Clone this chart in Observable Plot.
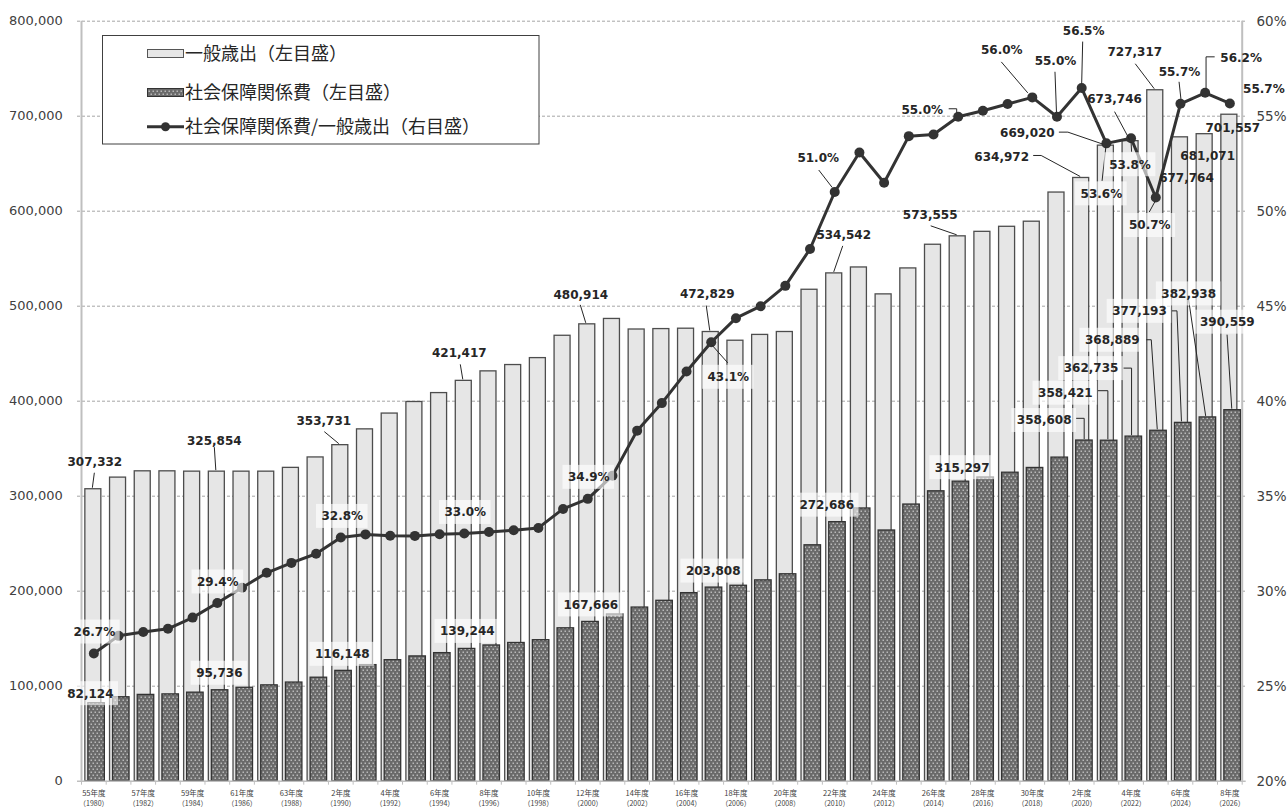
<!DOCTYPE html>
<html>
<head>
<meta charset="utf-8">
<script src="https://cdn.jsdelivr.net/npm/d3@7"></script>
<script src="https://cdn.jsdelivr.net/npm/@observablehq/plot@0.6"></script>
<style>
  html, body { margin: 0; padding: 0; background: #fff; }
  #chart { width: 1287px; height: 807px; }
  #chart svg { overflow: visible; }
</style>
</head>
<body>
<div id="chart"></div>
<script>
// ---------------- DATA ----------------
const years = [1980,1981,1982,1983,1984,1985,1986,1987,1988,1989,
               1990,1991,1992,1993,1994,1995,1996,1997,1998,1999,
               2000,2001,2002,2003,2004,2005,2006,2007,2008,2009,
               2010,2011,2012,2013,2014,2015,2016,2017,2018,2019,
               2020,2021,2022,2023,2024,2025,2026];

// 一般歳出 (億円)
const generalExp = [307332,319567,326200,326195,325857,325854,325842,325834,329821,340805,
                    353731,370365,386988,399168,408548,421417,431409,438067,445362,468878,
                    480914,486589,475472,475922,476320,472829,463660,469784,472845,517310,
                    534542,540780,512450,539774,564697,573555,578286,583591,588958,619639,
                    634972,669020,673746,727317,677764,681071,701557];

// 社会保障関係費 (億円)
const socialSec = [82124,88369,90848,91398,93211,95736,98346,100896,103845,108947,
                   116148,122200,127411,131350,134816,139244,142879,145501,148431,160950,
                   167666,175552,182795,189907,197970,203808,205739,211409,217824,248344,
                   272686,287079,263901,291224,305175,315297,319738,324735,329732,340627,
                   358608,358421,362735,368889,377193,382938,390559];

// 社会保障関係費/一般歳出 (%)
const ratioPct = [26.72,27.65,27.85,28.02,28.61,29.38,30.18,30.97,31.49,31.97,
                  32.83,32.99,32.92,32.91,33.00,33.04,33.12,33.21,33.33,34.33,
                  34.86,36.08,38.45,39.90,41.56,43.10,44.37,45.00,46.07,48.01,
                  51.01,53.09,51.50,53.95,54.04,54.97,55.29,55.64,55.99,54.97,
                  56.48,53.57,53.84,50.72,55.653,56.23,55.67];

// x tick labels (every other fiscal year)
const tickYears = [1980,1982,1984,1986,1988,1990,1992,1994,1996,1998,2000,2002,
                   2004,2006,2008,2010,2012,2014,2016,2018,2020,2022,2024,2026];
const tickEra = ["55年度","57年度","59年度","61年度","63年度","2年度","4年度","6年度",
                 "8年度","10年度","12年度","14年度","16年度","18年度","20年度","22年度",
                 "24年度","26年度","28年度","30年度","2年度","4年度","6年度","8年度"];

const leftTicks = [0,100000,200000,300000,400000,500000,600000,700000,800000];
const rightTicksPct = [20,25,30,35,40,45,50,55,60];

const legendItems = ["一般歳出（左目盛）","社会保障関係費（左目盛）","社会保障関係費/一般歳出（右目盛）"];

// ---------------- LABEL LAYOUT (pixel offsets from the data anchor) ----------------
const genLabelLayout = [
  {year:1980, dx:1,     dy:-27,  leader:[[1,-16],[-1,-1]]},
  {year:1985, dx:-3,    dy:-30,  leader:[[-2.5,-24],[-1,-1]]},
  {year:1990, dx:-17,   dy:-24,  leader:[[-16,-13],[-1.5,-1]]},
  {year:1995, dx:-5,    dy:-28,  leader:[[-3.5,-16],[-1,-1]]},
  {year:2000, dx:-7,    dy:-29,  leader:[[-7,-19],[-1.5,-1]]},
  {year:2005, dx:-4,    dy:-38,  leader:[[-4.5,-26],[-1,-1]]},
  {year:2010, dx:9,     dy:-38,  leader:[[8.5,-27],[-0.5,-1]]},
  {year:2015, dx:-28,   dy:-21,  leader:[[-27,-10],[-1,-1]]},
  {year:2020, dx:-80,   dy:-21,  leader:[[-48,-22],[-40,-22],[-1,-1]]},
  {year:2021, dx:-79,   dy:-12,  leader:[[-47,-13],[-38,-13],[-3,-1]]},
  {year:2022, dx:-16.5, dy:-42,  leader:[[-16,-29],[-1,-1]]},
  {year:2023, dx:-21,   dy:-38,  leader:[[-20,-26],[-1,-1]]},
  {year:2024, dx:6,     dy:41},
  {year:2025, dx:2.5,   dy:22},
  {year:2026, dx:3,     dy:13.5}
];
const ssLabelLayout = [
  {year:1980, dx:-3.5, dy:-9.5},
  {year:1985, dx:2,    dy:-17},
  {year:1990, dx:1.5,  dy:-16.5},
  {year:1995, dx:3,    dy:-17.5},
  {year:2000, dx:3,    dy:-17},
  {year:2005, dx:2,    dy:-16.5},
  {year:2010, dx:-8,   dy:-17},
  {year:2015, dx:4,    dy:-14},
  {year:2020, dx:-37.5, dy:-20,   leader:[[-5,-21.7],[3,-21.7],[3,-1]]},
  {year:2021, dx:-41,   dy:-47.5, leader:[[-8,-49.5],[2,-49.5],[2,-1]]},
  {year:2022, dx:-40,   dy:-68,   leader:[[-7,-68],[1,-68],[1,-1]]},
  {year:2023, dx:-43.5, dy:-90.5, leader:[[-9,-90.5],[-4,-90.5],[2,-1]]},
  {year:2024, dx:-41,   dy:-111.5,leader:[[-8,-111.5],[-3,-111.5],[1.5,-1]]},
  {year:2025, dx:-16.5, dy:-123.5,leader:[[-16,-117],[1,-1]]},
  {year:2026, dx:-2.5,  dy:-88,   leader:[[-2.3,-75],[2.4,-1]]}
];
const ratioLabelLayout = [
  {year:1980, dx:0.5,  dy:-21.5, box:true},
  {year:1985, dx:0.5,  dy:-21,   box:true},
  {year:1990, dx:1.5,  dy:-21,   box:true},
  {year:1995, dx:1,    dy:-21,   box:true},
  {year:2000, dx:1,    dy:-21.5, box:true},
  {year:2005, dx:17,   dy:35,    box:true, leader:[[1,3],[17,21]]},
  {year:2010, dx:-16.5,dy:-34,   leader:[[-15.5,-21.5],[-2,-4]]},
  {year:2015, dx:-36,  dy:-7,    leader:[[-9,-7.5],[-1,-7.5],[-1,-4]]},
  {year:2018, dx:-30.5,dy:-47,   leader:[[-30.5,-35],[-4,-4]]},
  {year:2019, dx:-1.5, dy:-56,   leader:[[-1.5,-44.5],[0,-4]]},
  {year:2020, dx:2,    dy:-56.5, leader:[[1.5,-46],[0.5,-4]]},
  {year:2021, dx:-5,   dy:50.5,  box:true, leader:[[0,4],[-3.8,38]]},
  {year:2022, dx:-1,   dy:26.5,  box:true, leader:[[0.5,4],[1,14]]},
  {year:2023, dx:-6,   dy:28,    box:true, leader:[[0,4],[-6,15]]},
  {year:2024, dx:-1,   dy:-32,   leader:[[-0.9,-21.5],[1,-4]]},
  {year:2025, dx:36,   dy:-34.5, leader:[[10,-35.5],[1.4,-35.5],[1.4,-4]]},
  {year:2026, dx:34,   dy:-14}
];

// ---------------- BUILD ----------------
const fmt = d3.format(",");
const pctToY = p => (p - 20) * 20000;      // right axis (20%..60%) onto the left value domain
const rows = years.map((year, i) => ({year, general: generalExp[i], social: socialSec[i], ratio: ratioPct[i]}));
const byYear = new Map(rows.map(r => [r.year, r]));

const ann = [];
genLabelLayout.forEach(l => { const r = byYear.get(l.year); ann.push({...l, value: r.general, text: fmt(r.general), box: false}); });
ssLabelLayout.forEach(l => { const r = byYear.get(l.year); ann.push({...l, value: r.social, text: fmt(r.social), box: true}); });
ratioLabelLayout.forEach(l => { const r = byYear.get(l.year); ann.push({...l, value: pctToY(r.ratio), text: r.ratio.toFixed(1) + "%", box: !!l.box}); });

const LABEL_FONT = "'DejaVu Sans', Verdana, sans-serif";
const boundaries = years.map(y => y - 0.5).concat([years[years.length - 1] + 0.5]);

function leaderLayer(index, scales) {
  const g = d3.create("svg:g").attr("fill", "none").attr("stroke", "#262626").attr("stroke-width", 1);
  for (const a of ann) {
    if (!a.leader) continue;
    const cx = scales.x(a.year), cy = scales.y(a.value);
    g.append("polyline").attr("points", a.leader.map(([dx, dy]) => `${cx + dx},${cy + dy}`).join(" "));
  }
  return g.node();
}
function boxLayer(index, scales) {
  const ctx = document.createElement("canvas").getContext("2d");
  ctx.font = "bold 12px 'DejaVu Sans'";
  const g = d3.create("svg:g").attr("fill", "#ffffff").attr("fill-opacity", 0.62);
  for (const a of ann) {
    if (!a.box) continue;
    const w = ctx.measureText(a.text).width + 10;
    const x = scales.x(a.year) + a.dx, y = scales.y(a.value) + a.dy;
    g.append("rect").attr("x", x - w / 2).attr("y", y - 12).attr("width", w).attr("height", 24);
  }
  return g.node();
}

const svgNode = Plot.plot({
  width: 1287,
  height: 807,
  marginLeft: 81,
  marginRight: 45.3,
  marginTop: 20.7,
  marginBottom: 26.3,
  style: {fontFamily: LABEL_FONT, background: "#fff", overflow: "visible"},
  x: {type: "linear", domain: [1979.5, 2026.5], axis: null},
  y: {domain: [0, 800000], axis: null},
  marks: [
    Plot.ruleY(leftTicks.filter(v => v > 0), {stroke: "#a6a6a6", strokeDasharray: "3,2", insetLeft: -4, insetRight: -4}),
    Plot.rect(rows, {x1: d => d.year - 0.5, x2: d => d.year + 0.5, y1: () => 0, y2: "general",
      insetLeft: 3.85, insetRight: 4.85, fill: "#e6e6e6", stroke: "#4d4d4d", strokeWidth: 1.3}),
    Plot.rect(rows, {x1: d => d.year - 0.5, x2: d => d.year + 0.5, y1: () => 0, y2: "social",
      insetLeft: 6.85, insetRight: 1.35, fill: "url(#ssDots)", stroke: "#333", strokeWidth: 1.3}),
    Plot.ruleX([1979.5, 2026.5], {stroke: "#bfbfbf", strokeWidth: 2}),
    Plot.ruleY([0], {stroke: "#bfbfbf", strokeWidth: 1.5, insetLeft: -4, insetRight: -4}),
    Plot.ruleX(boundaries, {y1: () => 0, y2: () => 0, insetTop: 4, stroke: "#bfbfbf"}),
    Plot.line(rows, {x: "year", y: d => pctToY(d.ratio), stroke: "#333", strokeWidth: 3}),
    Plot.dot(rows, {x: "year", y: d => pctToY(d.ratio), r: 5, fill: "#333"}),
    leaderLayer,
    boxLayer,
    ...ann.map(a => Plot.text([a], {x: "year", y: "value", text: "text", dx: a.dx, dy: a.dy,
      fontSize: 12, fontWeight: "bold", fill: "#262626", fontFamily: LABEL_FONT})),
    Plot.axisY(leftTicks, {anchor: "left", tickSize: 0, tickPadding: 18.7, tickFormat: fmt,
      fontSize: 13, color: "#404040", label: null}),
    Plot.axisY(rightTicksPct.map(pctToY), {anchor: "right", tickSize: 0, tickPadding: 14.3,
      tickFormat: v => `${Math.round(v / 20000 + 20)}%`, fontSize: 13.5, color: "#404040", label: null}),
    Plot.text(tickYears, {x: d => d, y: () => 0, text: (d, i) => tickEra[i], dy: 12.5,
      fontSize: 7.5, fill: "#404040", fontFamily: "'Noto Sans CJK JP', sans-serif"}),
    Plot.text(tickYears, {x: d => d, y: () => 0, text: d => `（${d}）`, dy: 22.5,
      fontSize: 7, fill: "#404040", fontFamily: "'Noto Sans CJK JP', sans-serif"})
  ]
});

document.getElementById("chart").appendChild(svgNode);

// dot pattern for 社会保障関係費 bars
const svg = d3.select(svgNode);
const defs = svg.insert("defs", ":first-child");
const pat = defs.append("pattern").attr("id", "ssDots").attr("patternUnits", "userSpaceOnUse")
  .attr("width", 4).attr("height", 6);
pat.append("rect").attr("width", 4).attr("height", 6).attr("fill", "#6a6a6a");
pat.append("rect").attr("x", 0.6).attr("y", 0.6).attr("width", 1.2).attr("height", 1.2).attr("fill", "#e4e4e4");
pat.append("rect").attr("x", 2.6).attr("y", 3.6).attr("width", 1.2).attr("height", 1.2).attr("fill", "#e4e4e4");

// legend (inside the plot area, top-left)
const lg = svg.append("g").attr("font-family", "'Noto Sans CJK JP', sans-serif").attr("font-size", 18)
  .attr("fill", "#262626").attr("text-anchor", "start");
lg.append("rect").attr("x", 102.5).attr("y", 35.5).attr("width", 436.5).attr("height", 108.5)
  .attr("fill", "#fff").attr("stroke", "#404040").attr("stroke-width", 1);
const rowY = [53.3, 92.7, 126.7];
lg.append("rect").attr("x", 147.5).attr("y", 49.5).attr("width", 36).attr("height", 8)
  .attr("fill", "#e6e6e6").attr("stroke", "#555");
lg.append("rect").attr("x", 147.5).attr("y", 88.5).attr("width", 36).attr("height", 8)
  .attr("fill", "url(#ssDots)").attr("stroke", "#333");
lg.append("line").attr("x1", 147).attr("x2", 184).attr("y1", rowY[2]).attr("y2", rowY[2])
  .attr("stroke", "#333").attr("stroke-width", 3);
lg.append("circle").attr("cx", 165.5).attr("cy", rowY[2]).attr("r", 4.5).attr("fill", "#333");
legendItems.forEach((t, i) => {
  lg.append("text").attr("x", 185).attr("y", rowY[i]).attr("dy", "0.35em")
    .attr("text-anchor", "start").text(t);
});
</script>
</body>
</html>
